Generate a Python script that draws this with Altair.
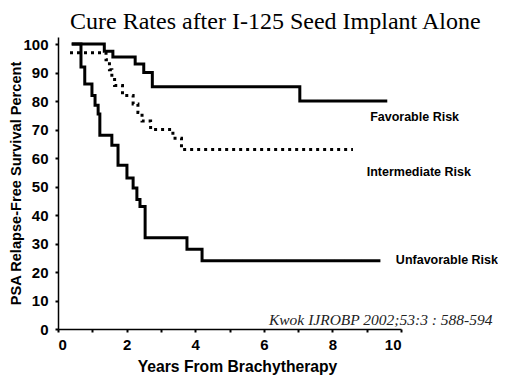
import altair as alt
import pandas as pd

# Kaplan-Meier step data (years, percent)
fav_t = [0.4, 1.35, 1.6, 2.25, 2.5, 2.75, 7.05, 9.6]
fav_s = [100, 97.5, 95.5, 93, 90, 85, 80, 80]

int_t = [0.35, 1.4, 1.5, 1.57, 1.65, 1.88, 2.19, 2.33, 2.45, 2.7, 3.35, 3.6, 8.6]
int_s = [97, 94.5, 91, 88.5, 85.5, 82, 79, 76, 73, 70, 67, 63, 63]

unf_t = [0.4, 0.67, 0.78, 0.99, 1.08, 1.17, 1.22, 1.57, 1.75, 2.01, 2.19, 2.30, 2.39, 2.54, 3.76, 4.2, 9.4]
unf_s = [100, 92, 86, 82, 78.5, 75.5, 68, 64.5, 57.5, 53, 49.5, 45.5, 43, 32, 28, 24, 24]

series_names = ["Favorable Risk", "Intermediate Risk", "Unfavorable Risk"]
label_x = [9.1, 9.0, 9.85]
label_y = [74.5, 55.2, 24.2]

x_ticks = list(range(0, 11))
y_ticks = list(range(0, 101, 10))

title_text = "Cure Rates after I-125 Seed Implant Alone"
citation = "Kwok IJROBP 2002;53:3 : 588-594"

rows = []
for name, ts, ss in zip(series_names, [fav_t, int_t, unf_t], [fav_s, int_s, unf_s]):
    for t, s in zip(ts, ss):
        rows.append({"series": name, "years": t, "pct": s})
df = pd.DataFrame(rows)

labels_df = pd.DataFrame({"x": label_x, "y": label_y, "text": series_names})
cite_df = pd.DataFrame({"x": [6.15], "y": [1.4], "text": [citation]})
title_df = pd.DataFrame({"x": [0.35], "y": [105.4], "text": [title_text]})

xscale = alt.Scale(domain=[0, 10], nice=False)
yscale = alt.Scale(domain=[0, 102.5], nice=False)

xaxis = alt.Axis(values=x_ticks, title="Years From Brachytherapy",
                 labelExpr="datum.value % 2 == 0 ? datum.label : ''",
                 labelOverlap=False,
                 titleX=179, titleY=42, titleBaseline="alphabetic",
                 titleFontSize=15.7)
yaxis = alt.Axis(values=y_ticks, title="PSA Relapse-Free Survival Percent",
                 labelOverlap=False,
                 titleX=-38, titleBaseline="alphabetic", titleFontSize=14.6)

lines = alt.Chart(df).mark_line(interpolate="step-after", strokeWidth=3, color="black",
                                 strokeCap="butt").encode(
    x=alt.X("years:Q", scale=xscale, axis=xaxis),
    y=alt.Y("pct:Q", scale=yscale, axis=yaxis),
    strokeDash=alt.StrokeDash("series:N",
                              scale=alt.Scale(domain=series_names,
                                              range=[[1, 0], [3, 4], [1, 0]]),
                              legend=None),
    detail="series:N",
)

labels = alt.Chart(labels_df).mark_text(align="left", baseline="middle",
                                         font="Liberation Sans", fontWeight="bold",
                                         fontSize=12.5, color="black").encode(
    x=alt.X("x:Q", scale=xscale, axis=xaxis), y=alt.Y("y:Q", scale=yscale, axis=yaxis),
    text="text:N")

cite = alt.Chart(cite_df).mark_text(align="left", baseline="alphabetic",
                                     font="Liberation Serif", fontStyle="italic",
                                     fontSize=15.5, color="#222").encode(
    x=alt.X("x:Q", scale=xscale, axis=xaxis), y=alt.Y("y:Q", scale=yscale, axis=yaxis),
    text="text:N")

title = alt.Chart(title_df).mark_text(align="left", baseline="alphabetic",
                                       font="Liberation Serif", fontSize=24,
                                       color="black").encode(
    x=alt.X("x:Q", scale=xscale, axis=xaxis), y=alt.Y("y:Q", scale=yscale, axis=yaxis),
    text="text:N")

chart = alt.layer(lines, labels, cite, title).properties(
    width=343, height=292,
    autosize="none",
    padding={"left": 50, "top": 29, "right": 97, "bottom": 47},
).configure_view(stroke=None).configure_axis(
    grid=False, domainColor="black", domainWidth=1.5, tickColor="black",
    tickWidth=2, tickSize=3, labelFont="Liberation Sans", labelFontWeight="bold",
    labelFontSize=15, labelColor="black", labelPadding=5,
    titleFont="Liberation Sans", titleFontWeight="bold", titleColor="black",
).configure_axisY(labelPadding=7)

chart.save("out.html", embed_options={"renderer": "svg", "actions": False})
